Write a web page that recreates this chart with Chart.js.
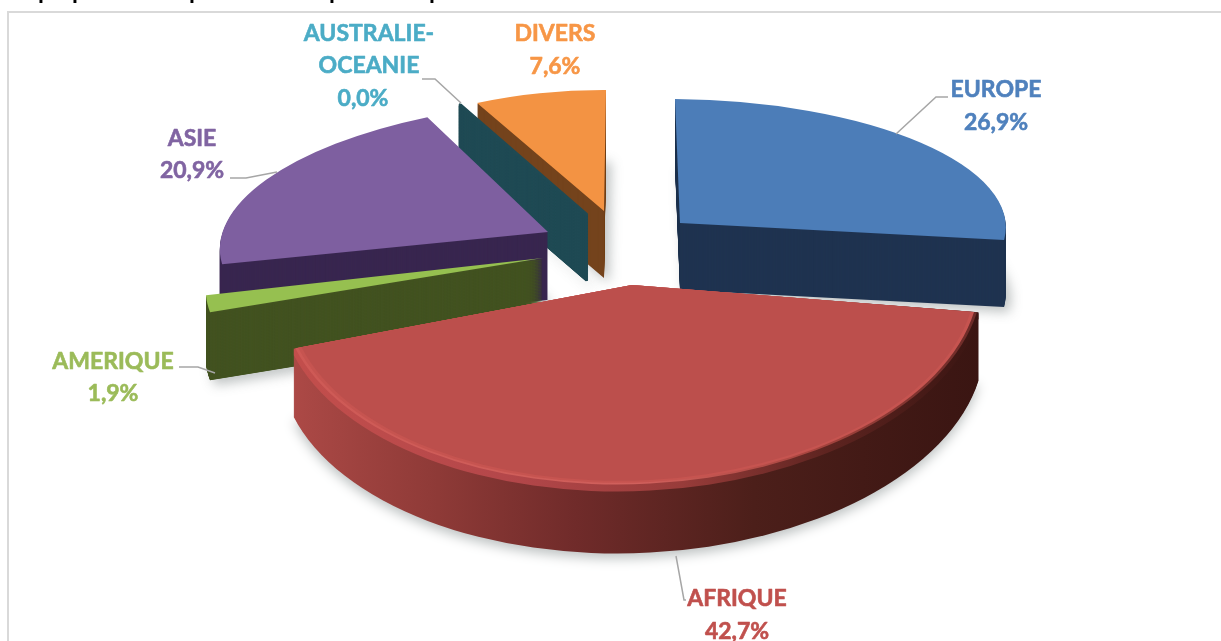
<!DOCTYPE html>
<html>
<head>
<meta charset="utf-8">
<style>
  html, body { margin: 0; padding: 0; background: #fff; }
  canvas { display: block; }
</style>
<script src="https://cdn.jsdelivr.net/npm/chart.js@4"></script>
</head>
<body>
<canvas id="pieChart" width="1221" height="641"></canvas>
<script>
const categories = ['EUROPE', 'AFRIQUE', 'AMERIQUE', 'ASIE', 'AUSTRALIE-OCEANIE', 'DIVERS'];
const shares = [26.9, 42.7, 1.9, 20.9, 0.04, 7.6];

const labelColors = ['#4F81BD', '#C0504D', '#9BBB59', '#8064A2', '#4BACC6', '#F79646'];
const topColors = ['#4C7DB8', '#BC4F4C', '#96C050', '#7E5FA0', '#1F4A54', '#F39343'];
const sideColors = ['#1F3350', '#000000', '#435321', '#38264F', '#1F4A54', '#74431C'];

// fake 3D: each slice gets its own flattening, the real picture has perspective
const sliceViews = [
  { a: 1.086, b: 0.0076, c: 0.0167, d: 0.413, ex: 680, ey: 223, depth: 67 },
  { a: 1.172, b: 0.012, c: -0.07, d: 0.668, ex: 632, ey: 285, depth: 68 },
  { a: 1.106, b: -0.015, c: -0.202, d: 0.4985, ex: 543, ey: 258, depth: 68 },
  { a: 1.088, b: -0.0115, c: -0.1128, d: 0.4376, ex: 548, ey: 232, depth: 68 },
  { a: 0.92, b: 0, c: 0, d: 0.413, ex: 587, ey: 214, depth: 67 },
  { a: 0.934, b: 0.004, c: -0.0067, d: 0.403, ex: 604, ey: 211, depth: 67 }
];
const drawOrder = [5, 4, 0, 3, 2, 1];

const labelBoxes = [
  { x: 996, y: 90, lines: ['EUROPE'], pct: 123, px: 996 },
  { x: 737, y: 599, lines: ['AFRIQUE'], pct: 632, px: 737 },
  { x: 113, y: 362, lines: ['AMERIQUE'], pct: 394, px: 113 },
  { x: 192, y: 139, lines: ['ASIE'], pct: 171, px: 192 },
  { x: 369, y: 34, lines: ['AUSTRALIE-', 'OCEANIE'], pct: 99, px: 363 },
  { x: 555, y: 34, lines: ['DIVERS'], pct: 67, px: 555 }
];
const leaders = [
  [[896, 134], [936, 97], [948, 97]],
  [[676, 556], [684, 600], [686, 600]],
  [[179, 367], [198, 367], [215, 373]],
  [[230, 178], [246, 178], [277, 172]],
  [[422, 79], [435, 79], [461, 103]]
];
const cutTitleMarks = [41, 75, 192, 332, 432];

const pieRadius = 300;

function drawSlice(chart, i) {
  const ctx = chart.ctx;
  const el = chart.getDatasetMeta(0).data[i];
  const v = sliceViews[i];
  const layer = (color, drop, shrink, border) => {
    const piece = Object.create(el);
    piece.options = Object.assign({}, el.options, {
      backgroundColor: color,
      borderColor: color,
      borderWidth: border
    });
    if (shrink) piece.outerRadius = el.outerRadius - shrink;
    ctx.save();
    ctx.translate(0, drop);
    ctx.transform(v.a, v.b, v.c, v.d, v.ex, v.ey);
    ctx.translate(-el.x, -el.y);
    piece.draw(ctx);
    ctx.restore();
  };
  const linear = (stops) => {
    const g = ctx.createLinearGradient(el.x - pieRadius, 0, el.x + pieRadius, 0);
    stops.forEach(s => g.addColorStop(s[0], s[1]));
    return g;
  };
  const thin = i === 4 ? 3 : 0;

  let side = sideColors[i];
  let rim = null;
  if (i === 1) {
    side = linear([[0, '#B04B48'], [0.25, '#8E3A37'], [0.45, '#702B2A'], [0.7, '#4C1F1A'], [1, '#3A1512']]);
    rim = linear([[0, '#C44F4C'], [0.35, '#B4474A'], [0.6, '#983C3A'], [0.8, '#5E2420'], [1, '#3A1512']]);
  }

  // soft ground shadow under the deepest layer
  ctx.save();
  ctx.shadowColor = 'rgba(110,120,120,0.45)';
  ctx.shadowBlur = 12;
  ctx.shadowOffsetX = i === 1 ? 0 : 5;
  ctx.shadowOffsetY = 5;
  layer(side, v.depth, 0, thin);
  ctx.restore();

  // small steps so thin slices don't leave stripes
  const step = (i === 4 || i === 2) ? 0.3 : 1;
  for (let k = v.depth - step; k >= 1; k -= step) {
    layer(side, k, 0, thin);
  }
  if (rim) {
    for (let k = 6; k >= 0; k--) layer(rim, k, 0, 0);
    const glow = linear([[0, '#CE5955'], [0.55, '#D0605C'], [0.78, '#A8453F'], [1, '#6A2A27']]);
    layer(glow, 0, 1.5, 0);
    layer('#C65450', 0, 4, 0);
    layer(topColors[i], 0, 7, 0);
  } else {
    layer(topColors[i], 0, 0, thin);
  }
}

const sliceDepth = {
  id: 'sliceDepth',
  beforeDraw(chart) {
    const ctx = chart.ctx;
    ctx.save();
    ctx.fillStyle = '#fff';
    ctx.fillRect(0, 0, chart.width, chart.height);
    ctx.strokeStyle = '#D9D9D9';
    ctx.lineWidth = 2;
    ctx.beginPath();
    ctx.moveTo(8, chart.height);
    ctx.lineTo(8, 12);
    ctx.lineTo(chart.width, 12);
    ctx.stroke();
    ctx.fillStyle = '#000';
    ctx.font = 'bold 24px Lato';
    cutTitleMarks.forEach(x => ctx.fillText('p', x - 3, -1));
    ctx.restore();
  },
  beforeDatasetsDraw(chart) {
    drawOrder.forEach(i => drawSlice(chart, i));
    return false;
  },
  afterDraw(chart) {
    const ctx = chart.ctx;
    ctx.save();
    ctx.strokeStyle = '#A6A6A6';
    ctx.lineWidth = 1.5;
    leaders.forEach(pts => {
      ctx.beginPath();
      pts.forEach((p, n) => n ? ctx.lineTo(p[0], p[1]) : ctx.moveTo(p[0], p[1]));
      ctx.stroke();
    });
    ctx.font = 'bold 23px Lato';
    ctx.textAlign = 'center';
    ctx.textBaseline = 'middle';
    ctx.lineWidth = 0.6;
    ctx.lineJoin = 'round';
    const put = (text, x, y) => {
      ctx.fillText(text, x, y);
      ctx.strokeText(text, x, y);
    };
    labelBoxes.forEach((box, i) => {
      ctx.fillStyle = labelColors[i];
      ctx.strokeStyle = labelColors[i];
      box.lines.forEach((line, n) => put(line, box.x, box.y + n * 32));
      put(shares[i].toFixed(1).replace('.', ',') + '%', box.px, box.pct);
    });
    ctx.restore();
  }
};

new Chart(document.getElementById('pieChart'), {
  type: 'pie',
  data: {
    labels: categories,
    datasets: [{
      data: shares,
      backgroundColor: topColors,
      borderWidth: 0
    }]
  },
  options: {
    responsive: false,
    animation: false,
    events: [],
    radius: pieRadius,
    plugins: {
      legend: { display: false },
      tooltip: { enabled: false }
    }
  },
  plugins: [sliceDepth]
});
</script>
</body>
</html>
